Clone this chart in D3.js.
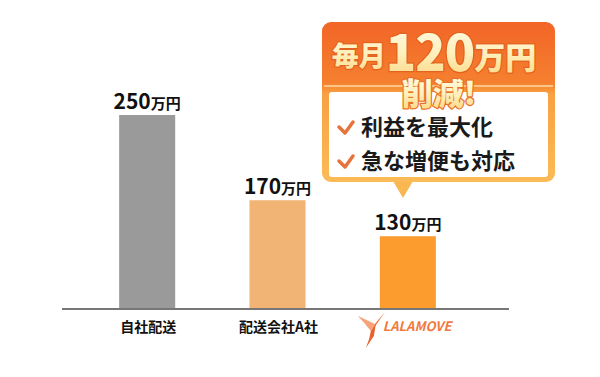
<!DOCTYPE html>
<html>
<head>
<meta charset="utf-8">
<script src="https://cdn.jsdelivr.net/npm/d3@7"></script>
<style>
  body { margin: 0; background: #fff; }
  svg { display: block; }
  text { font-family: "Noto Sans CJK JP", "Noto Sans", sans-serif; }
</style>
</head>
<body>
<div id="chart-area"></div>
<script>
const categories = ["自社配送", "配送会社A社", "LALAMOVE"];
const values = [250, 170, 130];
const unit = "万円";
const barColors = ["#9a9a9a", "#f2b475", "#fc9b2e"];
const headline = ["毎月", "120", "万円"];
const headline2 = "削減!";
const points = ["利益を最大化", "急な増便も対応"];

const width = 600;
const height = 377;

const svg = d3.select('#chart-area')
    .append('svg')
    .attr("width", width)
    .attr("height", height);

const defs = svg.append('defs');

const x = d3.scaleBand()
    .domain(categories)
    .range([82, 473])
    .paddingInner(0.57)
    .paddingOuter(0.285);

// the bars are drawn as an illustration, not to a linear scale
const y = d3.scalePow()
    .exponent(1.5)
    .domain([0, 250])
    .range([309, 115]);

const color = d3.scaleOrdinal()
    .domain(categories)
    .range(barColors);

svg.selectAll('rect.bar')
    .data(values)
    .enter()
    .append('rect')
    .attr('class', 'bar')
    .attr('x', (d, i) => x(categories[i]))
    .attr('y', d => y(d))
    .attr('width', x.bandwidth())
    .attr('height', d => y(0) - y(d))
    .attr('fill', (d, i) => color(categories[i]));

// baseline
svg.append('line')
    .attr('x1', 62).attr('x2', 509)
    .attr('y1', y(0)).attr('y2', y(0))
    .attr('stroke', '#777')
    .attr('stroke-width', 2);

// value labels
const vl = svg.selectAll('text.value')
    .data(values)
    .enter()
    .append('text')
    .attr('class', 'value')
    .attr('x', (d, i) => x(categories[i]) + x.bandwidth() / 2)
    .attr('y', d => y(d) - 6)
    .attr('text-anchor', 'middle')
    .attr('fill', '#111')
    .attr('font-weight', 700);
vl.append('tspan').attr('font-size', 21).text(d => d);
vl.append('tspan').attr('font-size', 15).text(unit);

// category labels
svg.selectAll('text.cat')
    .data(categories.slice(0, 2))
    .enter()
    .append('text')
    .attr('class', 'cat')
    .attr('x', d => x(d) + x.bandwidth() / 2 + 1)
    .attr('y', 332)
    .attr('text-anchor', 'middle')
    .attr('font-size', 14)
    .attr('font-weight', 700)
    .attr('fill', '#111')
    .text(d => d);

// lalamove logo
const lx = x(categories[2]) + x.bandwidth() / 2;
const logo = svg.append('g').attr('transform', `translate(${lx - 50}, 312)`);
logo.append('path').attr('d', 'M0,4 Q9,8 17,12 L13,19 Q6,10 0,4 Z').attr('fill', '#f7a27a');
logo.append('path').attr('d', 'M27,0 Q20,11 13,20 L17,12 Q22,6 27,0 Z').attr('fill', '#f07a3d');
logo.append('path').attr('d', 'M13,19 L18,12 L16,24 L8,36 Q12,27 13,19 Z').attr('fill', '#e8602a');
logo.append('text')
    .attr('x', 25)
    .attr('y', 19)
    .attr('font-family', '"Liberation Sans", Arial, sans-serif')
    .attr('font-size', 13)
    .attr('font-weight', 700)
    .attr('font-style', 'italic')
    .attr('fill', '#f07a3d')
    .text(categories[2]);

// callout
const gHead = defs.append('linearGradient').attr('id', 'head').attr('x1', 0).attr('y1', 0).attr('x2', 0).attr('y2', 1);
gHead.append('stop').attr('offset', '0%').attr('stop-color', '#f26527');
gHead.append('stop').attr('offset', '38%').attr('stop-color', '#f5802f');
gHead.append('stop').attr('offset', '45%').attr('stop-color', '#f8a142');
gHead.append('stop').attr('offset', '100%').attr('stop-color', '#fbbb56');

const gText = defs.append('linearGradient').attr('id', 'ctext').attr('x1', 0).attr('y1', 0).attr('x2', 0).attr('y2', 1);
gText.append('stop').attr('offset', '0%').attr('stop-color', '#fffdf0');
gText.append('stop').attr('offset', '55%').attr('stop-color', '#fff0bd');
gText.append('stop').attr('offset', '100%').attr('stop-color', '#fbd27a');

const call = svg.append('g');
call.append('path')
    .attr('d', 'M393,181 L403,198 L413,181 Z')
    .attr('fill', '#f9b651');
call.append('rect')
    .attr('x', 322).attr('y', 22)
    .attr('width', 233).attr('height', 160)
    .attr('rx', 9)
    .attr('fill', 'url(#head)');
call.append('line')
    .attr('x1', 324).attr('x2', 553)
    .attr('y1', 86).attr('y2', 86)
    .attr('stroke', '#ffd9a0')
    .attr('stroke-width', 1.5);
call.append('rect')
    .attr('x', 329).attr('y', 92)
    .attr('width', 219).attr('height', 85)
    .attr('rx', 3)
    .attr('fill', '#fff');

const h1 = call.append('text')
    .attr('x', 434)
    .attr('y', 71)
    .attr('text-anchor', 'middle')
    .attr('font-weight', 900)
    .attr('fill', 'url(#ctext)')
    .attr('stroke', '#e3621f')
    .attr('stroke-width', 2.5)
    .attr('paint-order', 'stroke')
    .attr('stroke-linejoin', 'round');
h1.append('tspan').attr('font-size', 27).attr('dy', -5).text(headline[0]);
h1.append('tspan').attr('font-size', 50).attr('dy', 5).attr('letter-spacing', -1).text(headline[1]);
h1.append('tspan').attr('font-size', 31).attr('dy', -2).text(headline[2]);

call.append('text')
    .attr('x', 439)
    .attr('y', 105)
    .attr('text-anchor', 'middle')
    .attr('font-size', 31)
    .attr('font-weight', 900)
    .attr('fill', 'url(#ctext)')
    .attr('stroke', '#e8702a')
    .attr('stroke-width', 2.5)
    .attr('paint-order', 'stroke')
    .attr('stroke-linejoin', 'round')
    .text(headline2);

const items = call.selectAll('g.item')
    .data(points)
    .enter()
    .append('g')
    .attr('class', 'item')
    .attr('transform', (d, i) => `translate(0, ${135 + i * 34})`);
items.append('path')
    .attr('d', 'M339,-8 L345,-2 L353,-13')
    .attr('fill', 'none')
    .attr('stroke', '#e8733a')
    .attr('stroke-width', 3.5)
    .attr('stroke-linecap', 'round')
    .attr('stroke-linejoin', 'round');
items.append('text')
    .attr('x', 361)
    .attr('y', 0)
    .attr('font-size', 22)
    .attr('font-weight', 700)
    .attr('fill', '#1a1a1a')
    .text(d => d);
</script>
</body>
</html>
